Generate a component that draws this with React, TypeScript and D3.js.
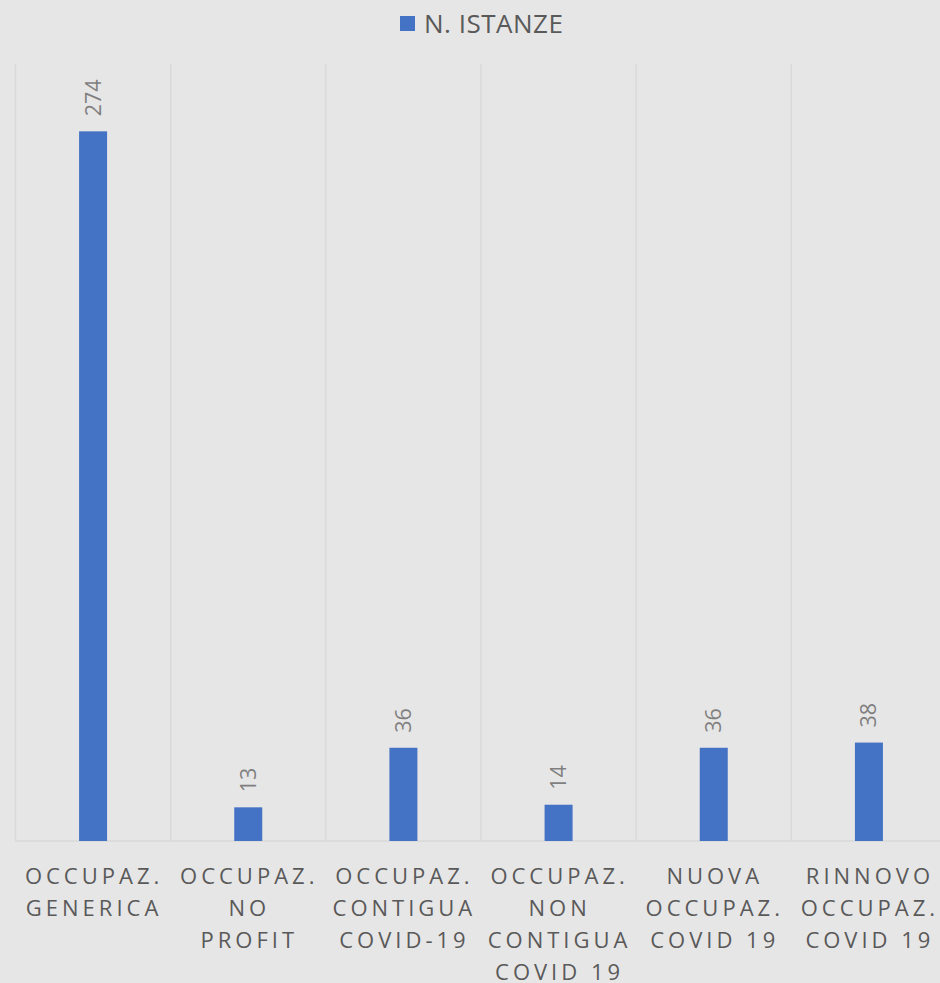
import React from "react";
import * as d3 from "d3";

const categories = ["gen", "noprofit", "contigua", "noncontigua", "nuova", "rinnovo"];
const categoryLabels: string[][] = [
  ["OCCUPAZ.", "GENERICA"],
  ["OCCUPAZ.", "NO", "PROFIT"],
  ["OCCUPAZ.", "CONTIGUA", "COVID-19"],
  ["OCCUPAZ.", "NON", "CONTIGUA", "COVID 19"],
  ["NUOVA", "OCCUPAZ.", "COVID 19"],
  ["RINNOVO", "OCCUPAZ.", "COVID 19"],
];
const values = [274, 13, 36, 14, 36, 38];
const seriesName = "N. ISTANZE";

const W = 940;
const H = 983;
const plotLeft = 15.5;
const plotRight = 946.5;
const plotTop = 64;
const plotBottom = 841;

export default function App() {
  const x = d3.scaleBand<string>().domain(categories).range([plotLeft, plotRight]).paddingInner(0).paddingOuter(0);
  const y = d3.scaleLinear().domain([0, 300]).range([plotBottom, plotTop]);
  const barW = 28;
  const boundaries = categories.map((c) => x(c)!).concat([plotRight]);
  const font = "'Open Sans', 'Liberation Sans', sans-serif";
  return (
    <div style={{ position: "absolute", left: 0, top: 0 }}>
      <svg width={W} height={H} style={{ display: "block", background: "#e7e6e6" }}>
        <rect x={0} y={0} width={W} height={H} fill="#e7e6e6" />
        {boundaries.map((b, i) => (
          <line key={i} x1={b} x2={b} y1={plotTop} y2={plotBottom} stroke="#d9d9d9" strokeWidth={1.5} />
        ))}
        <line x1={plotLeft} x2={plotRight} y1={plotBottom} y2={plotBottom} stroke="#d9d9d9" strokeWidth={1.5} />
        {categories.map((c, i) => {
          const cx = x(c)! + x.bandwidth() / 2;
          return (
            <g key={c}>
              <rect x={cx - barW / 2} y={y(values[i])} width={barW} height={plotBottom - y(values[i])} fill="#4472c4" />
              <text
                transform={`translate(${cx + 7.5},${y(values[i]) - 15}) rotate(-90)`}
                fontFamily={font}
                fontSize={21.5}
                fill="#7f7f7f"
                textAnchor="start"
              >
                {values[i]}
              </text>
              {categoryLabels[i].map((ln, j) => (
                <text
                  key={j}
                  x={cx + 1}
                  y={884 + j * 32}
                  textAnchor="middle"
                  fontFamily={font}
                  fontSize={22}
                  letterSpacing={4}
                  fill="#595959"
                >
                  {ln}
                </text>
              ))}
            </g>
          );
        })}
        <rect x={400} y={16} width={15} height={15} fill="#4472c4" />
        <text x={424} y={33} fontFamily={font} fontSize={26} letterSpacing={0.5} fill="#595959">
          {seriesName}
        </text>
      </svg>
    </div>
  );
}
